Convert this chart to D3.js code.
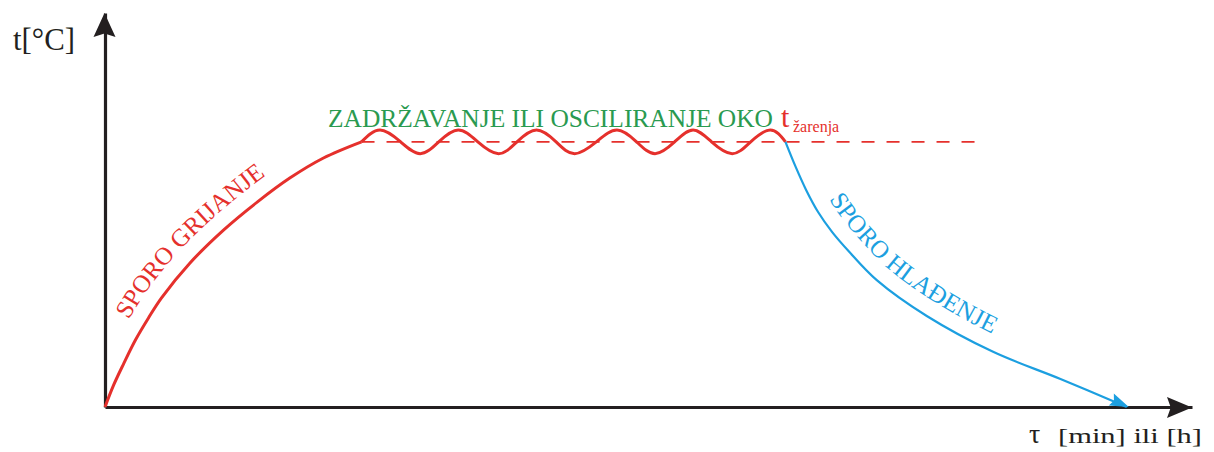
<!DOCTYPE html>
<html>
<head>
<meta charset="utf-8">
<script src="https://cdn.jsdelivr.net/npm/d3@7"></script>
<style>
  body { margin: 0; background: #fff; }
  svg { display: block; }
</style>
</head>
<body>
<svg></svg>
<script>
// slow heating (time, temperature)
const heatTime = [0, 0.8, 1.7, 2.8, 4.0, 5.2, 7.8, 10.9, 14.0, 17.0, 20.1, 23.6];
const heatTemp = [0, 5.6, 10.9, 17.0, 22.6, 27.7, 36.5, 44.9, 52.0, 58.1, 63.2, 67.3];

// holding / oscillating around annealing temperature (crossings, peaks, troughs)
const holdTime = [23.6, 25.3, 27.2, 29.0, 30.7, 32.5, 34.3, 36.2, 37.9, 39.7, 41.5, 43.2,
                  45.2, 47.1, 48.9, 50.6, 52.4, 54.1, 55.8, 57.7, 59.4, 61.2, 62.6];
const holdTemp = [67.3, 70.3, 67.3, 64.3, 67.3, 70.3, 67.3, 64.3, 67.3, 70.3, 67.3, 64.3,
                  67.3, 70.3, 67.3, 64.3, 67.3, 70.3, 67.3, 64.3, 67.3, 70.3, 67.3];

// slow cooling
const coolTime = [62.6, 63.5, 64.5, 65.6, 66.9, 68.4, 71.0, 75.6, 81.7, 87.9, 94.0];
const coolTemp = [67.3, 61.2, 55.1, 49.5, 44.4, 39.6, 32.2, 23.1, 14.0, 7.1, 0];

// annealing temperature reference line
const annealTemp = 67.3;
const annealLine = [23.6, 80.2];

const yLabel = "t[°C]";
const xLabelSymbol = "τ";
const xLabelUnits = "[min] ili [h]";
const holdLabel = "ZADRŽAVANJE ILI OSCILIRANJE OKO";
const heatLabel = "SPORO GRIJANJE";
const coolLabel = "SPORO HLAĐENJE";

const RED = "#e5302c", BLUE = "#1c9fe0", GREEN = "#2a9a50", INK = "#231f20";
const FONT = "'Liberation Serif', 'Times New Roman', serif";

const width = 1214, height = 452;
const svg = d3.select("svg").attr("width", width).attr("height", height);
const defs = svg.append("defs");

const x = d3.scaleLinear().domain([0, 100]).range([105, 1192]);
const y = d3.scaleLinear().domain([0, 100]).range([407, 13]);

const zip = (a, b) => a.map((v, i) => [v, b[i]]);
const smooth = d3.line().x(d => x(d[0])).y(d => y(d[1])).curve(d3.curveCatmullRom.alpha(0.5));
const wave = d3.line().x(d => x(d[0])).y(d => y(d[1])).curve(d3.curveNatural);
const straight = d3.line().x(d => x(d[0])).y(d => y(d[1]));

// axes (no ticks, just the lines + arrows)
const xAxis = svg.append("g")
    .attr("transform", `translate(0,${y(0)})`)
    .call(d3.axisBottom(x).tickValues([]).tickSizeOuter(0));
const yAxis = svg.append("g")
    .attr("transform", `translate(${x(0)},0)`)
    .call(d3.axisLeft(y).tickValues([]).tickSizeOuter(0));
[xAxis, yAxis].forEach(g => g.select(".domain")
    .attr("stroke", INK).attr("stroke-width", 3.2));

// arrow heads
function arrowHead(tipX, tipY, angle, len, half, color) {
    const a = angle * Math.PI / 180;
    const ux = Math.cos(a), uy = Math.sin(a);
    const nx = -uy, ny = ux;
    const bx = tipX - ux * len, by = tipY - uy * len;
    const notch = len * 0.15;
    const d = [
        "M", tipX, tipY,
        "L", bx + nx * half, by + ny * half,
        "L", tipX - ux * (len - notch), tipY - uy * (len - notch),
        "L", bx - nx * half, by - ny * half, "Z"
    ].join(" ");
    svg.append("path").attr("d", d).attr("fill", color);
}
arrowHead(x(100), y(0) + 0.5, 0, 25, 10.5, INK);
arrowHead(x(0) - 0.5, y(100), -90, 24, 11, INK);

// dashed annealing line
svg.append("path")
    .attr("d", straight(annealLine.map(t => [t, annealTemp])))
    .attr("stroke", RED).attr("stroke-width", 1.6)
    .attr("stroke-dasharray", "13,12").attr("fill", "none");

// curves
const heatPath = svg.append("path")
    .attr("d", smooth(zip(heatTime, heatTemp)))
    .attr("stroke", RED).attr("stroke-width", 3).attr("fill", "none");
svg.append("path")
    .attr("d", wave(zip(holdTime, holdTemp)))
    .attr("stroke", RED).attr("stroke-width", 3).attr("fill", "none")
    .attr("stroke-linejoin", "round");
const coolPath = svg.append("path")
    .attr("d", smooth(zip(coolTime, coolTemp)))
    .attr("stroke", BLUE).attr("stroke-width", 2.2).attr("fill", "none");

// blue arrow at the end of cooling curve
{
    const node = coolPath.node();
    const L = node.getTotalLength();
    const p1 = node.getPointAtLength(L - 14), p2 = node.getPointAtLength(L);
    const ang = Math.atan2(p2.y - p1.y, p2.x - p1.x) * 180 / Math.PI;
    arrowHead(p2.x + 2, p2.y, ang, 19, 6.5, BLUE);
}

// build a path parallel to a curve, on the "upper" side of the text direction
function offsetPath(node, dist, id) {
    const L = node.getTotalLength();
    const n = 200;
    const pts = [], base = [];
    for (let i = 0; i <= n; i++) {
        const l = L * i / n;
        const p = node.getPointAtLength(l);
        const a = node.getPointAtLength(Math.max(0, l - 1));
        const b = node.getPointAtLength(Math.min(L, l + 1));
        const dx = b.x - a.x, dy = b.y - a.y;
        const len = Math.hypot(dx, dy) || 1;
        pts.push([p.x + dist * dy / len, p.y - dist * dx / len]);
        base.push(p);
    }
    defs.append("path").attr("id", id)
        .attr("d", d3.line().curve(d3.curveBasis)(pts));
    // cumulative length along the offset points
    const cum = [0];
    for (let i = 1; i < pts.length; i++)
        cum.push(cum[i - 1] + Math.hypot(pts[i][0] - pts[i - 1][0], pts[i][1] - pts[i - 1][1]));
    return { base, cum };
}
function offsetAt(info, t) {
    const px = x(t);
    let best = 0;
    info.base.forEach((p, i) => {
        if (Math.abs(p.x - px) < Math.abs(info.base[best].x - px)) best = i;
    });
    return info.cum[best];
}

const heatInfo = offsetPath(heatPath.node(), 16, "heat-offset");
svg.append("text")
    .attr("font-family", FONT).attr("font-size", 25).attr("fill", RED)
    .append("textPath").attr("href", "#heat-offset")
    .attr("startOffset", offsetAt(heatInfo, 3.4))
    .text(heatLabel);

const coolInfo = offsetPath(coolPath.node(), 16, "cool-offset");
svg.append("text")
    .attr("font-family", FONT).attr("font-size", 25).attr("fill", BLUE)
    .append("textPath").attr("href", "#cool-offset")
    .attr("startOffset", offsetAt(coolInfo, 65.3))
    .text(coolLabel);

// holding label
svg.append("text")
    .attr("x", 328).attr("y", 127)
    .attr("font-family", FONT).attr("font-size", 26).attr("fill", GREEN)
    .attr("textLength", 445).attr("lengthAdjust", "spacingAndGlyphs")
    .text(holdLabel);
svg.append("text")
    .attr("x", 781).attr("y", 127)
    .attr("font-family", FONT).attr("font-size", 30).attr("fill", RED)
    .text("t");
svg.append("text")
    .attr("x", 793).attr("y", 132)
    .attr("font-family", FONT).attr("font-size", 16).attr("fill", RED)
    .text("žarenja");

// axis titles
svg.append("text")
    .attr("x", 13).attr("y", 50)
    .attr("font-family", FONT).attr("font-size", 31).attr("fill", INK)
    .attr("textLength", 62).attr("lengthAdjust", "spacingAndGlyphs")
    .text(yLabel);
svg.append("text")
    .attr("x", 1029).attr("y", 443)
    .attr("font-family", FONT).attr("font-size", 28).attr("fill", INK)
    .text(xLabelSymbol);
svg.append("text")
    .attr("x", 1058).attr("y", 443)
    .attr("font-family", FONT).attr("font-size", 22).attr("fill", INK)
    .attr("textLength", 144).attr("lengthAdjust", "spacingAndGlyphs")
    .text(xLabelUnits);
</script>
</body>
</html>
